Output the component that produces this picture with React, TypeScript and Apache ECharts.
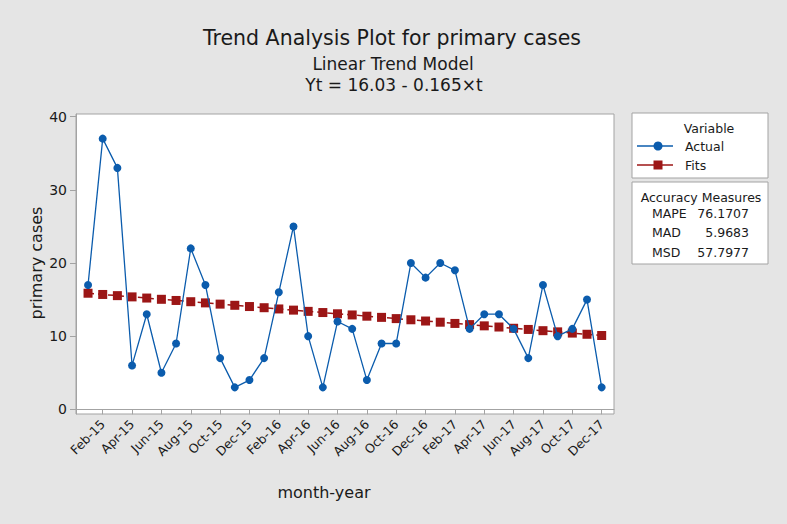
import { useEffect, useRef } from "react";
import * as echarts from "echarts";

const months = [
  "Jan-15", "Feb-15", "Mar-15", "Apr-15", "May-15", "Jun-15", "Jul-15", "Aug-15", "Sep-15", "Oct-15", "Nov-15", "Dec-15",
  "Jan-16", "Feb-16", "Mar-16", "Apr-16", "May-16", "Jun-16", "Jul-16", "Aug-16", "Sep-16", "Oct-16", "Nov-16", "Dec-16",
  "Jan-17", "Feb-17", "Mar-17", "Apr-17", "May-17", "Jun-17", "Jul-17", "Aug-17", "Sep-17", "Oct-17", "Nov-17", "Dec-17",
];

const actual = [17, 37, 33, 6, 13, 5, 9, 22, 17, 7, 3, 4, 7, 16, 25, 10, 3, 12, 11, 4, 9, 9, 20, 18, 20, 19, 11, 13, 13, 11, 7, 17, 10, 11, 15, 3];

const fits = [
  15.87, 15.70, 15.54, 15.37, 15.21, 15.04, 14.88, 14.71, 14.55, 14.38, 14.22, 14.05,
  13.89, 13.72, 13.56, 13.39, 13.23, 13.06, 12.90, 12.73, 12.57, 12.40, 12.24, 12.07,
  11.91, 11.74, 11.58, 11.41, 11.25, 11.08, 10.92, 10.75, 10.59, 10.42, 10.26, 10.09,
];

const yTicks = [0, 10, 20, 30, 40];
const xTickLabels = ["Feb-15", "Apr-15", "Jun-15", "Aug-15", "Oct-15", "Dec-15", "Feb-16", "Apr-16", "Jun-16", "Aug-16", "Oct-16", "Dec-16", "Feb-17", "Apr-17", "Jun-17", "Aug-17", "Oct-17", "Dec-17"];

const accuracyNames = ["MAPE", "MAD", "MSD"];
const accuracyValues = ["76.1707", "5.9683", "57.7977"];

const FONT = "Tahoma, 'DejaVu Sans', sans-serif";
const BLUE = "#0b5cad";
const RED = "#9c1616";
const GRAY = "#a3a3a3";
const TEXT = "#1a1a1a";

export default function App() {
  const ref = useRef<HTMLDivElement>(null);
  useEffect(() => {
    const chart = echarts.init(ref.current!, null, { renderer: "svg" });
    const xTickValues = xTickLabels.map((l) => months.indexOf(l) + 1);
    const graphic: any[] = [
      { type: "text", x: 392, y: 38, style: { text: "Trend Analysis Plot for primary cases", font: `20.5px ${FONT}`, fill: TEXT, align: "center", verticalAlign: "middle" } },
      { type: "text", x: 393, y: 64, style: { text: "Linear Trend Model", font: `17px ${FONT}`, fill: TEXT, align: "center", verticalAlign: "middle" } },
      { type: "text", x: 394, y: 85, style: { text: "Yt = 16.03 - 0.165\u00d7t", font: `17px ${FONT}`, fill: TEXT, align: "center", verticalAlign: "middle" } },
      { type: "text", x: 36, y: 263, rotation: Math.PI / 2, style: { text: "primary cases", font: `16px ${FONT}`, fill: TEXT, align: "center", verticalAlign: "middle" } },
      { type: "text", x: 324, y: 492, style: { text: "month-year", font: `16px ${FONT}`, fill: TEXT, align: "center", verticalAlign: "middle" } },
      { type: "rect", shape: { x: 632, y: 113, width: 136, height: 65 }, style: { fill: "#fff", stroke: GRAY, lineWidth: 1 } },
      { type: "rect", shape: { x: 632, y: 182, width: 136, height: 82 }, style: { fill: "#fff", stroke: GRAY, lineWidth: 1 } },
      { type: "text", x: 709, y: 128, style: { text: "Variable", font: `12.5px ${FONT}`, fill: TEXT, align: "center", verticalAlign: "middle" } },
      { type: "line", shape: { x1: 637, y1: 146, x2: 673, y2: 146 }, style: { stroke: BLUE, lineWidth: 1.3 } },
      { type: "circle", shape: { cx: 658, cy: 146, r: 4.5 }, style: { fill: BLUE } },
      { type: "text", x: 685, y: 146, style: { text: "Actual", font: `12.5px ${FONT}`, fill: TEXT, align: "left", verticalAlign: "middle" } },
      { type: "line", shape: { x1: 637, y1: 165, x2: 673, y2: 165 }, style: { stroke: RED, lineWidth: 1.3 } },
      { type: "rect", shape: { x: 653.5, y: 160.5, width: 9, height: 9 }, style: { fill: RED } },
      { type: "text", x: 685, y: 165, style: { text: "Fits", font: `12.5px ${FONT}`, fill: TEXT, align: "left", verticalAlign: "middle" } },
      { type: "text", x: 701, y: 197, style: { text: "Accuracy Measures", font: `12.5px ${FONT}`, fill: TEXT, align: "center", verticalAlign: "middle" } },
    ];
    accuracyNames.forEach((n, i) => {
      const y = 213 + i * 19.5;
      graphic.push({ type: "text", x: 652, y, style: { text: n, font: `12.5px ${FONT}`, fill: TEXT, align: "left", verticalAlign: "middle" } });
      graphic.push({ type: "text", x: 749, y, style: { text: accuracyValues[i], font: `12.5px ${FONT}`, fill: TEXT, align: "right", verticalAlign: "middle" } });
    });

    chart.setOption({
      animation: false,
      backgroundColor: "#e5e5e5",
      grid: { left: 76, top: 114, right: 173, bottom: 110, show: true, backgroundColor: "#ffffff", borderColor: GRAY, borderWidth: 1 },
      xAxis: {
        type: "value",
        min: 0.18,
        max: 36.84,
        splitLine: { show: false },
        axisLine: { show: true, lineStyle: { color: GRAY } },
        axisTick: { show: true, length: 5, lineStyle: { color: GRAY }, customValues: xTickValues },
        axisLabel: {
          customValues: xTickValues,
          rotate: 45,
          margin: 8,
          fontSize: 12.5,
          fontFamily: FONT,
          color: TEXT,
          formatter: (v: number) => months[Math.round(v) - 1] ?? "",
        },
      },
      yAxis: {
        type: "value",
        min: -0.64,
        max: 40.37,
        splitLine: { show: false },
        axisLine: { show: true, lineStyle: { color: GRAY } },
        axisTick: { show: true, length: 6, lineStyle: { color: GRAY }, customValues: yTicks },
        axisLabel: { customValues: yTicks, margin: 9, fontSize: 14, fontFamily: FONT, color: TEXT },
      },
      series: [
        {
          name: "Fits",
          type: "line",
          data: fits.map((v, i) => [i + 1, v]),
          symbol: "rect",
          symbolSize: 9,
          itemStyle: { color: RED },
          lineStyle: { color: RED, width: 1.5, type: [6, 4] },
          z: 2,
        },
        {
          name: "Actual",
          type: "line",
          data: actual.map((v, i) => [i + 1, v]),
          symbol: "circle",
          symbolSize: 8,
          itemStyle: { color: BLUE },
          lineStyle: { color: BLUE, width: 1.3 },
          z: 3,
        },
      ],
      graphic,
    });
    return () => chart.dispose();
  }, []);
  return <div ref={ref} style={{ position: "fixed", left: 0, top: 0, width: 787, height: 524 }} />;
}
